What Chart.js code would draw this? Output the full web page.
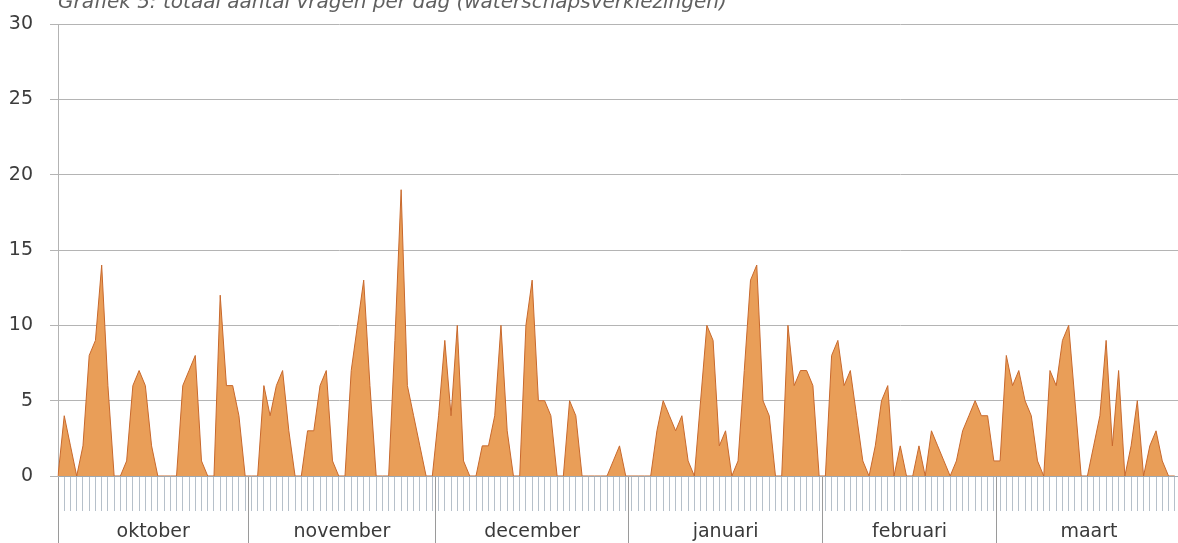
<!DOCTYPE html>
<html>
<head>
<meta charset="utf-8">
<script src="https://cdn.jsdelivr.net/npm/chart.js@4"></script>
<style>
  html, body { margin: 0; padding: 0; background: #ffffff; overflow: hidden; width: 1178px; height: 543px; }
  #wrap { position: absolute; left: 0; top: -9px; width: 1181px; height: 554px; }
</style>
</head>
<body>
<div id="wrap"><canvas id="c"></canvas></div>
<script>
// ---- data ----
const monthNames = ['oktober', 'november', 'december', 'januari', 'februari', 'maart'];
const monthShort = ['okt', 'nov', 'dec', 'jan', 'feb', 'mrt'];
const monthDays  = [31, 30, 31, 31, 28, 30];

const okt = [0,4,2,0,2,8,9,14,6,0, 0,1,6,7,6,2,0,0,0,0, 6,7,8,1,0,0,12,6,6,4, 0];
const nov = [0,0,6,4,6,7,3,0,0,3, 3,6,7,1,0,0,7,10,13,6, 0,0,0,9,19,6,4,2,0,0];
const dec = [4,9,4,10,1,0,0,2,2,4, 10,3,0,0,10,13,5,5,4,0, 0,5,4,0,0,0,0,0,1,2, 0];
const jan = [0,0,0,0,3,5,4,3,4,1, 0,5,10,9,2,3,0,1,7,13, 14,5,4,0,0,10,6,7,7,6, 0];
const feb = [0,8,9,6,7,4,1,0,2,5, 6,0,2,0,0,2,0,3,2,1, 0,1,3,4,5,4,4,1];
const mrt = [1,8,6,7,5,4,1,0,7,6, 9,10,5,0,0,2,4,9,2,7, 0,2,5,0,2,3,1,0,0,null];

const yTicks = [0, 5, 10, 15, 20, 25, 30];
const title = 'Grafiek 5: totaal aantal vragen per dag (waterschapsverkiezingen)';

// ---- derived structures ----
const dayLabels = [];
monthDays.forEach((n, m) => { for (let d = 1; d <= n; d++) dayLabels.push(d + ' ' + monthShort[m]); });
const values = [].concat(okt, nov, dec, jan, feb, mrt);
const lastIndex = dayLabels.length - 1;

// month boundaries (between last day of one month and first of next)
const bounds = [0];
let acc = 0;
for (let m = 0; m < monthDays.length - 1; m++) { acc += monthDays[m]; bounds.push(acc - 0.5); }
bounds.push(lastIndex);
const isBound = v => bounds.some(b => Math.abs(b - v) < 1e-6);

const FONT = 'DejaVu Sans';

new Chart(document.getElementById('c'), {
  type: 'line',
  data: {
    labels: dayLabels,
    datasets: [{
      data: values,
      xAxisID: 'x',
      yAxisID: 'y',
      fill: 'origin',
      backgroundColor: 'rgb(233,158,88)',
      borderColor: 'rgb(200,105,45)',
      borderWidth: 1,
      pointRadius: 0,
      tension: 0,
      spanGaps: false
    }]
  },
  options: {
    responsive: true,
    maintainAspectRatio: false,
    animation: false,
    layout: { padding: { left: 0, right: 0, top: 0, bottom: 0 } },
    plugins: {
      legend: { display: false },
      tooltip: { enabled: false },
      title: {
        display: true,
        text: title,
        align: 'start',
        fullSize: false,
        color: '#606060',
        font: { family: FONT, size: 20, style: 'italic', weight: 'normal' },
        padding: { top: 0, bottom: 9 }
      }
    },
    scales: {
      x: {
        type: 'category',
        display: false,
        offset: false
      },
      x2: {
        type: 'linear',
        position: 'bottom',
        min: 0,
        max: lastIndex,
        offset: false,
        afterBuildTicks: (scale) => {
          const t = [];
          for (let i = 0; i <= lastIndex; i++) if (!isBound(i)) t.push({ value: i, kind: 'day' });
          bounds.forEach(b => t.push({ value: b, kind: 'bound' }));
          for (let m = 0; m < monthNames.length; m++) {
            t.push({ value: (bounds[m] + bounds[m + 1]) / 2, kind: 'mid', name: monthNames[m] });
          }
          t.sort((a, b) => a.value - b.value);
          scale.ticks = t;
        },
        afterFit: (scale) => { scale.height = 69; },
        border: { display: true, color: '#9ea7ae', width: 1 },
        grid: {
          drawOnChartArea: false,
          drawTicks: true,
          tickLength: 67,
          color: (ctx) => {
            const k = ctx.tick ? ctx.tick.kind : 'day';
            if (k === 'bound') return '#9a9a9a';
            if (k === 'mid') return 'rgba(0,0,0,0)';
            return '#b6c0ca';
          },
          tickBorderDash: (ctx) => {
            const k = ctx.tick ? ctx.tick.kind : 'day';
            return k === 'day' ? [34, 300] : [];
          },
          lineWidth: 1,
          tickWidth: 1
        },
        ticks: {
          autoSkip: false,
          maxTicksLimit: 1000,
          maxRotation: 0,
          minRotation: 0,
          padding: -22,
          color: '#3a3a3a',
          font: { family: FONT, size: 19 },
          callback: (value, index, ticks) => (ticks[index] && ticks[index].kind === 'mid') ? ticks[index].name : ''
        }
      },
      y: {
        type: 'linear',
        min: 0,
        max: 30,
        afterBuildTicks: (scale) => { scale.ticks = yTicks.map(v => ({ value: v })); },
        afterFit: (scale) => { scale.width = 58; },
        border: { display: true, color: '#b3b3b3', width: 1 },
        grid: {
          color: '#b4b4b4',
          lineWidth: 1,
          tickLength: 8,
          drawTicks: true
        },
        ticks: {
          padding: 17,
          color: '#3c3c3c',
          font: { family: FONT, size: 19 }
        }
      }
    }
  }
});
</script>
</body>
</html>
